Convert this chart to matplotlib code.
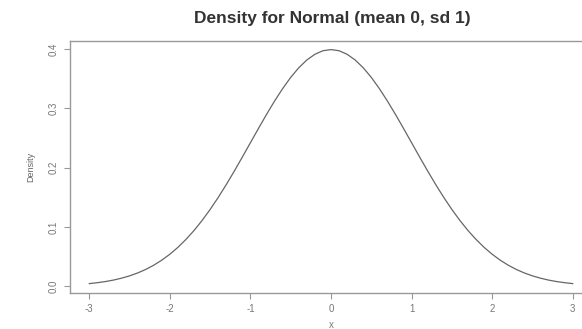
import matplotlib.pyplot as plt

# values (x, density)
x_vals = [-3.0, -2.9, -2.8, -2.7, -2.6, -2.5, -2.4, -2.3, -2.2, -2.1, -2.0,
          -1.9, -1.8, -1.7, -1.6, -1.5, -1.4, -1.3, -1.2, -1.1, -1.0,
          -0.9, -0.8, -0.7, -0.6, -0.5, -0.4, -0.3, -0.2, -0.1, 0.0,
          0.1, 0.2, 0.3, 0.4, 0.5, 0.6, 0.7, 0.8, 0.9, 1.0,
          1.1, 1.2, 1.3, 1.4, 1.5, 1.6, 1.7, 1.8, 1.9, 2.0,
          2.1, 2.2, 2.3, 2.4, 2.5, 2.6, 2.7, 2.8, 2.9, 3.0]
dens = [0.0044, 0.0060, 0.0079, 0.0104, 0.0136, 0.0175, 0.0224, 0.0283, 0.0355, 0.0440, 0.0540,
        0.0656, 0.0790, 0.0940, 0.1109, 0.1295, 0.1497, 0.1714, 0.1942, 0.2179, 0.2420,
        0.2661, 0.2897, 0.3123, 0.3332, 0.3521, 0.3683, 0.3814, 0.3910, 0.3970, 0.3989,
        0.3970, 0.3910, 0.3814, 0.3683, 0.3521, 0.3332, 0.3123, 0.2897, 0.2661, 0.2420,
        0.2179, 0.1942, 0.1714, 0.1497, 0.1295, 0.1109, 0.0940, 0.0790, 0.0656, 0.0540,
        0.0440, 0.0355, 0.0283, 0.0224, 0.0175, 0.0136, 0.0104, 0.0079, 0.0060, 0.0044]
x_ticks = [-3, -2, -1, 0, 1, 2, 3]
y_ticks = [0.0, 0.1, 0.2, 0.3, 0.4]
y_labels = ["0.0", "0.1", "0.2", "0.3", "0.4"]

plt.rcParams['font.family'] = ['Liberation Sans', 'DejaVu Sans']

fig = plt.figure(figsize=(5.82, 3.29), dpi=100)
ax = fig.add_axes([70 / 582, 1 - 293 / 329, 522 / 582, 252 / 329])

ax.plot(x_vals, dens, color='#666666', lw=0.9)
ax.set_xlim(-3.24, 3.24)
ax.set_ylim(-0.0114, 0.4134)

for s in ax.spines.values():
    s.set_color('#999999')
    s.set_linewidth(1.0)

ax.set_xticks(x_ticks)
ax.set_xticklabels([str(t) for t in x_ticks])
ax.set_yticks(y_ticks)
ax.set_yticklabels(y_labels, rotation=90, va='center')
ax.tick_params(direction='out', length=4, width=0.8, color='#999999',
               labelcolor='#777777', labelsize=7, pad=4)

ax.set_xlabel('x', fontsize=7, color='#777777', labelpad=4)
ax.set_ylabel('Density', fontsize=6.5, color='#666666', labelpad=10)
fig.text(332 / 582, 1 - 18 / 329, 'Density for Normal (mean 0, sd 1)',
         ha='center', va='center', fontsize=12.5, fontweight='bold', color='#333333')

fig.savefig('out.png', dpi=100)
